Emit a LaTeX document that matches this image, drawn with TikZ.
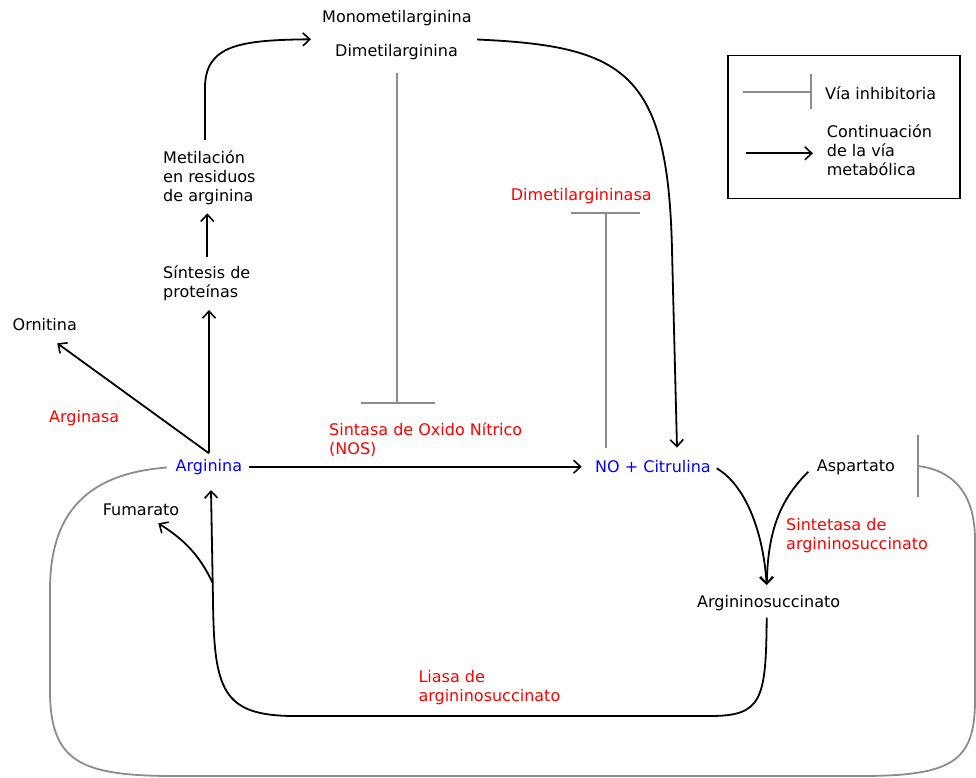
\documentclass[tikz,border=0pt]{standalone}
\usepackage{fontspec}
\setmainfont{DejaVu Sans}
\usetikzlibrary{arrows.meta}
\definecolor{inhgray}{RGB}{140,140,140}
\definecolor{enzred}{RGB}{255,0,0}
\definecolor{metblue}{RGB}{0,0,255}
\newcommand{\mylines}[1]{\begin{tabular}[t]{@{}l@{}}#1\end{tabular}}
\tikzset{
  lbl/.style={anchor=base west,inner sep=0pt,font=\fontsize{16}{19}\selectfont},
  enz/.style={lbl,text=enzred},
  met/.style={lbl,text=metblue},
  flow/.style={line width=1.8pt,black,-{Straight Barb[length=7pt,width=13pt,line width=1.6pt]}},
  inh/.style={line width=1.8pt,inhgray},
}
\begin{document}
\begin{tikzpicture}[x=1pt,y=-1pt]
\useasboundingbox (0,0) rectangle (976,777);
% texts
\node[lbl] (mono) at (322,22.5) {Monometilarginina};
\node[lbl] (dime) at (335,56) {Dimetilarginina};
\node[lbl] (metil) at (163,163) {\mylines{Metilación\\en residuos\\de arginina}};
\node[lbl] (sint) at (163,278.3) {\mylines{Síntesis de\\proteínas}};
\node[lbl] (orni) at (12.5,330) {Ornitina};
\node[enz] (argsa) at (49,422.7) {Arginasa};
\node[met] (argi) at (175.5,471.7) {Arginina};
\node[enz] (nos) at (329,435) {\mylines{Sintasa de Oxido Nítrico\\(NOS)}};
\node[met] (noc) at (595,472) {NO + Citrulina};
\node[enz] (dmasa) at (510.7,200.7) {Dimetilargininasa};
\node[lbl] (asp) at (816.7,471) {Aspartato};
\node[enz] (sintet) at (786,530) {\mylines{Sintetasa de\\argininosuccinato}};
\node[lbl] (asuc) at (697,607.3) {Argininosuccinato};
\node[lbl] (fuma) at (102.7,515) {Fumarato};
\node[enz] (liasa) at (418.3,682.7) {\mylines{Liasa de\\argininosuccinato}};
% legend
\node[draw,line width=1.8pt,minimum width=232pt,minimum height=143pt,inner sep=0pt,anchor=north west] (legend) at (727,54.5) {};
\node[lbl] (legvia) at (825,99.3) {Vía inhibitoria};
\node[lbl] (legcont) at (826.7,137.7) {\mylines{Continuación\\de la vía\\metabólica}};
\coordinate (li1) at (743,92);
\coordinate (li2) at (811,92);
\coordinate (lb1) at (811,74);
\coordinate (lb2) at (811,109);
\draw[inh,line width=1.4pt] (li1) -- (li2);
\draw[inh,line width=1.4pt] (lb1) -- (lb2);
\coordinate (la1) at (746,153.3);
\coordinate (la2) at (813,153.3);
\draw[flow] (la1) -- (la2);
% coordinates for connectors
\coordinate (metilTop) at (205,140);
\coordinate (monoIn) at (311,39.3);
\coordinate (dimeOut) at (477,39.5);
\coordinate (nocIn) at (677,447.7);
\coordinate (sintTop) at (207.3,256.7);
\coordinate (metilBot) at (207.3,213.3);
\coordinate (argiTop) at (209,453.3);
\coordinate (sintBot) at (209,310);
\coordinate (orniIn) at (57.3,343.3);
\coordinate (argiOut) at (249.3,466.7);
\coordinate (nocWest) at (581.7,466.7);
\coordinate (nocOut) at (716.7,468.3);
\coordinate (aspOut) at (808.3,471.7);
\coordinate (asucIn) at (766.7,585);
\coordinate (asucOut) at (766.7,617.7);
\coordinate (argiBot) at (211,490);
\coordinate (split) at (212.7,583);
\coordinate (fumaIn) at (158.3,523.3);
\coordinate (argiWest) at (167,467.5);
\coordinate (aspBar) at (917.7,466);
\coordinate (aspBar1) at (917.7,435);
\coordinate (aspBar2) at (917.7,497.3);
% flows
\draw[flow] (metilTop) -- (205,88) .. controls (205,45) and (240,40) .. (monoIn);
\draw[flow] (dimeOut) .. controls (625,46) and (668,72) .. (672,250) -- (nocIn);
\draw[flow] (sintTop) -- (metilBot);
\draw[flow] (argiTop) -- (sintBot);
\draw[flow] (argiTop) -- (orniIn);
\draw[flow] (argiOut) -- (nocWest);
\draw[flow] (nocOut) .. controls (745,485) and (763,530) .. (asucIn);
\draw[flow] (aspOut) .. controls (780,500) and (768,530) .. (asucIn);
\draw[flow] (asucOut) .. controls (766,700) and (762,716) .. (710,716) -- (295,716) .. controls (222,716) and (214,690) .. (213,600) -- (argiBot);
\draw[flow] (split) .. controls (200,556) and (185,540) .. (fumaIn);
% inhibitions
\coordinate (dimeBot) at (396.7,73.3);
\coordinate (nosBar) at (396.7,402.7);
\coordinate (nosBar1) at (361,402.7);
\coordinate (nosBar2) at (435,402.7);
\draw[inh] (dimeBot) -- (nosBar);
\draw[inh] (nosBar1) -- (nosBar2);
\coordinate (nocTop) at (605.7,448);
\coordinate (dmBar) at (605.7,213.3);
\coordinate (dmBar1) at (571,213.3);
\coordinate (dmBar2) at (640,213.3);
\draw[inh] (nocTop) -- (dmBar);
\draw[inh] (dmBar1) -- (dmBar2);
\draw[inh] (argiWest) .. controls (80,474) and (50,520) .. (50,590) -- (50,690) .. controls (50,762) and (80,776) .. (175,776) -- (860,776) .. controls (952,776) and (975,762) .. (975,700) -- (975,540) .. controls (975,492) and (952,470) .. (aspBar);
\draw[inh] (aspBar1) -- (aspBar2);
\end{tikzpicture}
\end{document}
